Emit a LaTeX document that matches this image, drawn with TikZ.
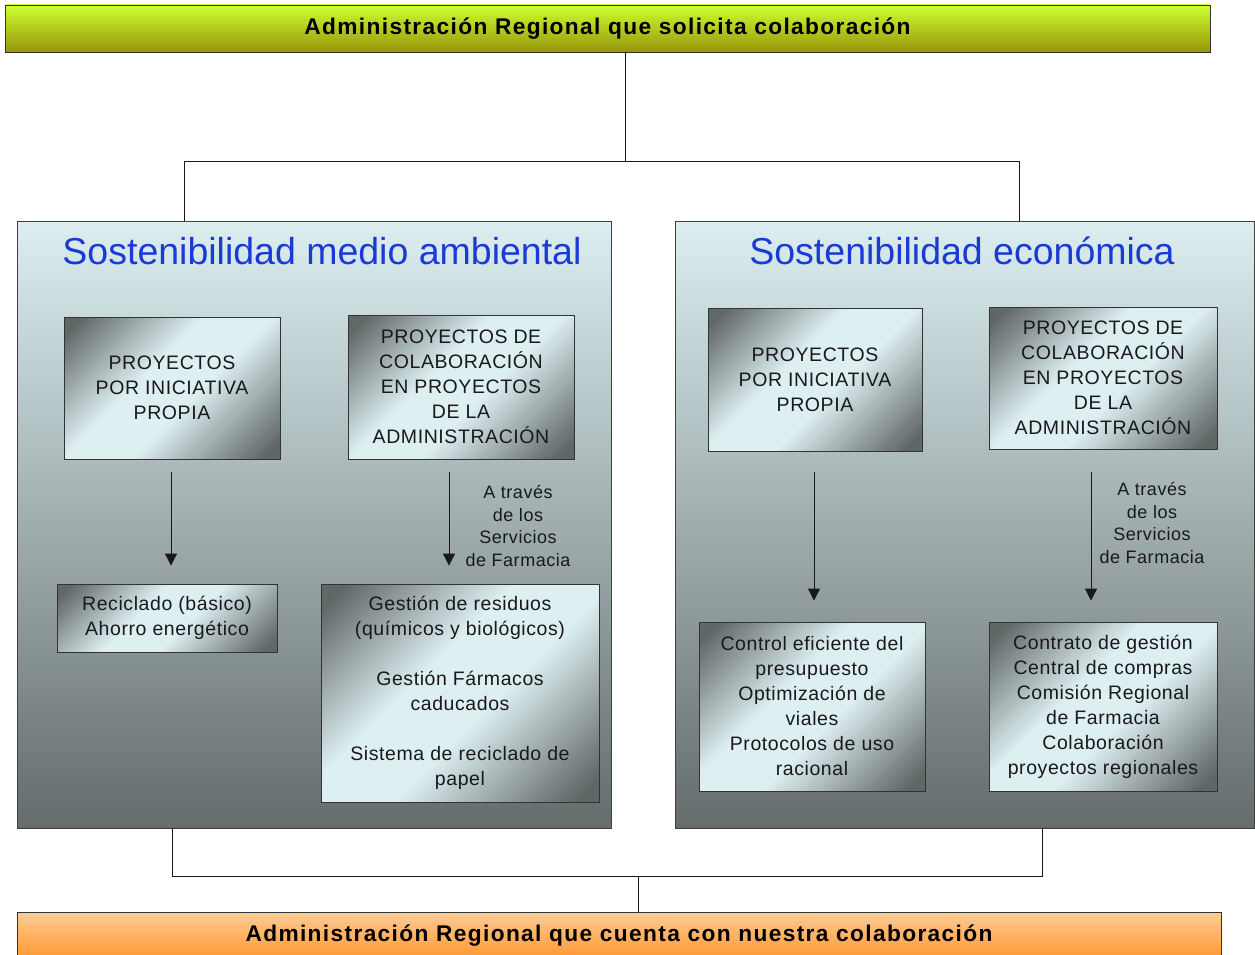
\documentclass[tikz,border=0pt]{standalone}
\usepackage{fontspec}
\setmainfont{Liberation Sans}
\newfontfamily\boxfont[LetterSpace=3]{Liberation Sans}
\newfontfamily\barfont[LetterSpace=6]{Liberation Sans}
\usetikzlibrary{positioning, arrows.meta}
\definecolor{barlime}{RGB}{206,255,51}
\definecolor{barolive}{RGB}{150,150,8}
\definecolor{barpeach}{RGB}{255,204,150}
\definecolor{barorange}{RGB}{255,150,45}
\definecolor{panellight}{RGB}{220,238,240}
\definecolor{paneldark}{RGB}{100,108,108}
\definecolor{boxdark}{RGB}{96,103,103}
\definecolor{boxlight}{RGB}{222,239,241}
\definecolor{titleblue}{RGB}{26,58,214}
\pgfdeclarehorizontalshading{steel}{100bp}{color(0bp)=(boxdark); color(18bp)=(boxdark); color(42bp)=(boxlight); color(56bp)=(boxlight); color(82bp)=(boxdark); color(100bp)=(boxdark)}

\begin{document}
\begin{tikzpicture}[x=1pt, y=-1pt,
    bar/.style={draw=black!80, line width=0.8pt, inner sep=0pt,
      font={\barfont\bfseries\fontsize{22.7}{26}\selectfont}},
    panel/.style={draw=black!75, line width=0.8pt, top color=panellight, bottom color=paneldark, inner sep=0pt},
    paneltitle/.style={text=titleblue, font={\fontsize{37.5}{40}\selectfont}},
    box/.style={draw=black!80, line width=0.8pt, shading=steel, shading angle=-45, align=center, inner sep=0pt,
      text=black!90, font={\boxfont\fontsize{19.5}{25}\selectfont}},
    note/.style={align=center, text=black!90, font={\boxfont\fontsize{18}{22.5}\selectfont}},
    link/.style={draw=black!90, line width=0.8pt},
    arr/.style={link, -{Triangle[width=12pt, length=12pt]}}]
  \useasboundingbox (0,0) rectangle (1255,955);

  \node[bar, top color=barlime, bottom color=barolive, minimum width=1205pt, minimum height=47pt] (solicita) at (607.5,28.5)
    {Administración Regional que solicita colaboración};
  \node[bar, top color=barpeach, bottom color=barorange, minimum width=1204pt, minimum height=48pt] (cuenta) at (619,936)
    {Administración Regional que cuenta con nuestra colaboración};

  \node[panel, minimum width=594pt, minimum height=607pt] (ambiental) at (314,524.5) {};
  \node[panel, minimum width=579pt, minimum height=607pt] (economica) at (964.5,524.5) {};
  \node[paneltitle] (ambtitle) at (322,251) {Sostenibilidad medio ambiental};
  \node[paneltitle] (ecotitle) at (962,251) {Sostenibilidad económica};

  \node[box, minimum width=216pt, minimum height=142pt] (ambpropia) at (172,388)
    {PROYECTOS\\POR INICIATIVA\\PROPIA};
  \node[box, minimum width=226pt, minimum height=144pt] (ambcolab) at (461,387)
    {PROYECTOS DE\\COLABORACIÓN\\EN PROYECTOS\\DE LA\\ADMINISTRACIÓN};
  \node[box, minimum width=220pt, minimum height=68pt] (reciclado) at (167,618)
    {Reciclado (básico)\\Ahorro energético};
  \node[box, minimum width=278pt, minimum height=218pt] (residuos) at (460,693)
    {Gestión de residuos\\(químicos y biológicos)\\[25pt]Gestión Fármacos\\caducados\\[25pt]Sistema de reciclado de\\papel};

  \node[box, minimum width=214pt, minimum height=143pt] (ecopropia) at (815,379.5)
    {PROYECTOS\\POR INICIATIVA\\PROPIA};
  \node[box, minimum width=228pt, minimum height=142pt] (ecocolab) at (1103,378)
    {PROYECTOS DE\\COLABORACIÓN\\EN PROYECTOS\\DE LA\\ADMINISTRACIÓN};
  \node[box, minimum width=226pt, minimum height=169pt] (control) at (812,706.5)
    {Control eficiente del\\presupuesto\\Optimización de\\viales\\Protocolos de uso\\racional};
  \node[box, minimum width=228pt, minimum height=169pt] (contrato) at (1103,706.5)
    {Contrato de gestión\\Central de compras\\Comisión Regional\\de Farmacia\\Colaboración\\proyectos regionales};

  \draw[arr] ([xshift=-1pt, yshift=-13pt]ambpropia.south) -- ([xshift=-1pt, yshift=18pt]ambpropia.south |- reciclado.north);
  \draw[arr] ([xshift=-12pt, yshift=-13pt]ambcolab.south) -- ([xshift=-12pt, yshift=18pt]ambcolab.south |- residuos.north);
  \draw[arr] ([xshift=-1pt, yshift=-21pt]ecopropia.south) -- ([xshift=-1pt, yshift=21pt]ecopropia.south |- control.north);
  \draw[arr] ([xshift=-12pt, yshift=-23pt]ecocolab.south) -- ([xshift=-12pt, yshift=21pt]ecocolab.south |- contrato.north);
  \node[note] (ambvia) at (518,526) {A través\\de los\\Servicios\\de Farmacia};
  \node[note] (ecovia) at (1152,523) {A través\\de los\\Servicios\\de Farmacia};

  \coordinate (split) at (625,161);
  \coordinate (ambin) at (184,161);
  \coordinate (ecoin) at (1019,161);
  \draw[link] (split |- solicita.south) -- (split);
  \draw[link] (ambin |- ambiental.north) -- (ambin) -- (ecoin) -- (ecoin |- economica.north);

  \coordinate (join) at (638,876);
  \coordinate (ambout) at (172,876);
  \coordinate (ecoout) at (1042,876);
  \draw[link] (ambout |- ambiental.south) -- (ambout) -- (ecoout) -- (ecoout |- economica.south);
  \draw[link] (join) -- (join |- cuenta.north);
\end{tikzpicture}
\end{document}
